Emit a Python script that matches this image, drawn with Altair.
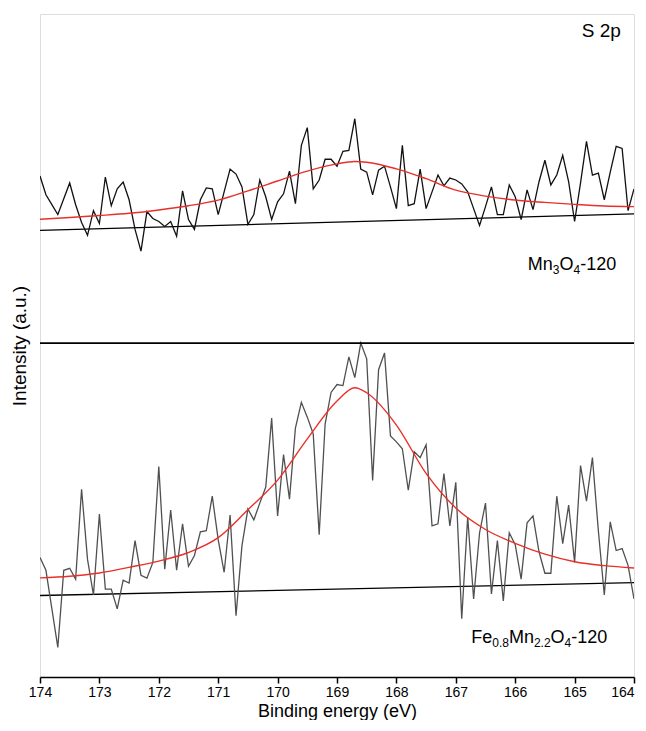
import altair as alt
import pandas as pd

# ---------------- data (arbitrary units) ----------------
energy = [round(174 - 0.1 * i, 1) for i in range(101)]

mn3o4_raw = [169, 150, 140, 130, 146, 162, 140, 122, 109, 134,
             121, 168, 139, 156, 163, 145, 115, 93, 133, 126,
             123, 118, 123, 108, 154, 125, 115, 145, 157, 156,
             130, 153, 176, 171, 158, 120, 130, 165, 148, 125,
             143, 151, 174, 141, 200, 218, 156, 165, 186, 186,
             179, 194, 195, 227, 176, 173, 150, 175, 179, 158,
             136, 200, 139, 141, 176, 136, 153, 170, 159, 167,
             165, 161, 153, 136, 119, 138, 158, 130, 130, 160,
             148, 125, 155, 135, 163, 185, 160, 170, 190, 163,
             123, 162, 204, 170, 172, 145, 173, 199, 197, 134, 156]

femn_raw = [121, 108, 69, 30, 108, 110, 99, 190, 119, 83,
            165, 89, 89, 69, 98, 95, 138, 103, 100, 116,
            213, 109, 169, 108, 155, 112, 123, 147, 148, 183,
            139, 106, 164, 62, 133, 170, 159, 176, 192, 262,
            163, 225, 180, 252, 278, 263, 246, 144, 256, 288,
            296, 295, 324, 303, 338, 322, 199, 311, 328, 244,
            238, 231, 189, 228, 222, 235, 153, 155, 206, 153,
            197, 59, 162, 79, 146, 176, 84, 138, 77, 146,
            134, 99, 156, 163, 127, 105, 105, 183, 135, 174,
            116, 214, 178, 222, 148, 83, 157, 128, 130, 113, 79]

fit_energy = [174, 173.5, 173, 172.5, 172, 171.5, 171, 170.5, 170, 169.5, 169,
              168.7, 168.5, 168, 167.5, 167, 166.5, 166, 165.5, 165, 164.5, 164]
mn3o4_fit = [125.3, 127, 129, 131.3, 134.7, 139, 144.7, 154, 164, 174, 181.3,
             183.7, 183, 176.3, 166.3, 154.7, 148.7, 144.7, 142.3, 140.3, 138.7, 138]
femn_fit = [100.3, 102, 105.3, 111, 117.3, 126, 141, 169.3, 199.3, 241, 279.3,
            292.7, 287.7, 255, 206, 171, 149.3, 135.3, 124.3, 116.7, 112.7, 110.3]

bg_energy = [174, 164]
mn3o4_bg = [114, 130.7]
femn_bg = [82.5, 95.5]

tick_values = [164 + 0.5 * i for i in range(21)]

# panel layout: bottom panel spans 0..338, top panel 338..671 (stacked offsets)
PANEL_OFFSET = {"top": 338, "bottom": 0}
TOTAL = 671

FONT = "Liberation Sans"
ARIAL_W = {"M": 833, "n": 556, "O": 778, "F": 611, "e": 556, "-": 333, ".": 278,
           "0": 556, "1": 556, "2": 556, "3": 556, "4": 556, "8": 556}


def frame(e, v, panel):
    return pd.DataFrame({"energy": e, "y": [val + PANEL_OFFSET[panel] for val in v],
                         "panel": panel})


raw_top = frame(energy, mn3o4_raw, "top")
raw_bot = frame(energy, femn_raw, "bottom")
fit_top = frame(fit_energy, mn3o4_fit, "top")
fit_bot = frame(fit_energy, femn_fit, "bottom")
bg_top = frame(bg_energy, mn3o4_bg, "top")
bg_bot = frame(bg_energy, femn_bg, "bottom")

x_scale = alt.Scale(domain=[164, 174], reverse=True, nice=False, zero=False)
y_scale = alt.Scale(domain=[0, TOTAL], nice=False, zero=False)

x_enc = alt.X(
    "energy:Q",
    scale=x_scale,
    axis=alt.Axis(
        title="Binding energy (eV)",
        values=tick_values,
        labelExpr="datum.value % 1 === 0 ? format(datum.value, 'd') : ''",
        tickSize={"condition": {"test": "datum.value % 1 === 0", "value": 6}, "value": 3},
        labelAlign={"condition": {"test": "datum.value <= 164", "value": "right"}, "value": "center"},
        tickColor="black",
        tickWidth=1.5,
        domainColor="black",
        domainWidth=1.5,
        grid=False,
        labelFontSize=14,
        labelColor="black",
        labelPadding=2,
        labelFlush=False,
        labelOverlap=False,
        titleFontSize=18,
        titleFontWeight="normal",
        titleColor="black",
        titlePadding=3,
    ),
)
y_enc = alt.Y(
    "y:Q",
    scale=y_scale,
    axis=alt.Axis(
        title="Intensity (a.u.)",
        labels=False,
        ticks=False,
        domain=False,
        grid=False,
        titleFontSize=19,
        titleFontWeight="normal",
        titleColor="black",
        titlePadding=11,
    ),
)


def line(df, color, width, **kw):
    return alt.Chart(df).mark_line(color=color, strokeWidth=width, clip=True, **kw).encode(x=x_enc, y=y_enc)


def sub_label(pieces, anchor_e, anchor_y, main=18, sub=12):
    """Right-aligned label built from normal and subscript pieces."""
    widths = [sum(ARIAL_W[c] for c in t) * (sub if s else main) / 1000 for t, s in pieces]
    x0 = -sum(widths)
    out = []
    for (t, s), w in zip(pieces, widths):
        out.append(
            alt.Chart(pd.DataFrame({"t": [t]})).mark_text(
                align="left", baseline="alphabetic", fontSize=sub if s else main,
                dx=x0, dy=4 if s else 0, font=FONT, color="black",
            ).encode(text="t:N", x=alt.datum(anchor_e), y=alt.datum(anchor_y))
        )
        x0 += w
    return out


divider = alt.Chart(pd.DataFrame({"y": [PANEL_OFFSET["top"]]})).mark_rule(
    color="black", strokeWidth=1.8
).encode(y=alt.Y("y:Q", scale=y_scale))

txt_s2p = alt.Chart(pd.DataFrame({"t": ["S 2p"]})).mark_text(
    align="right", baseline="alphabetic", fontSize=19, font=FONT, color="black"
).encode(text="t:N", x=alt.datum(164.22), y=alt.datum(648))

mn_label = sub_label([("Mn", 0), ("3", 1), ("O", 0), ("4", 1), ("-120", 0)], 164.3, 412)
fe_label = sub_label([("Fe", 0), ("0.8", 1), ("Mn", 0), ("2.2", 1), ("O", 0), ("4", 1), ("-120", 0)],
                     164.45, 34)

chart = alt.layer(
    line(bg_top, "black", 1.3), line(bg_bot, "black", 1.3),
    line(raw_top, "#111111", 1.3), line(raw_bot, "#505050", 1.3),
    line(fit_top, "#e8302a", 1.4, interpolate="monotone"),
    line(fit_bot, "#e8302a", 1.4, interpolate="monotone"),
    divider, txt_s2p, *mn_label, *fe_label,
).properties(
    width=630,
    height=712,
    padding={"left": 2, "top": 6, "right": 3, "bottom": 0},
    autosize=alt.AutoSizeParams(type="fit", contains="padding"),
    background="white",
).configure_view(
    stroke="black", strokeWidth=1.8
).configure(
    font=FONT
)

chart.save("out.html", embed_options={"renderer": "svg", "actions": False})
